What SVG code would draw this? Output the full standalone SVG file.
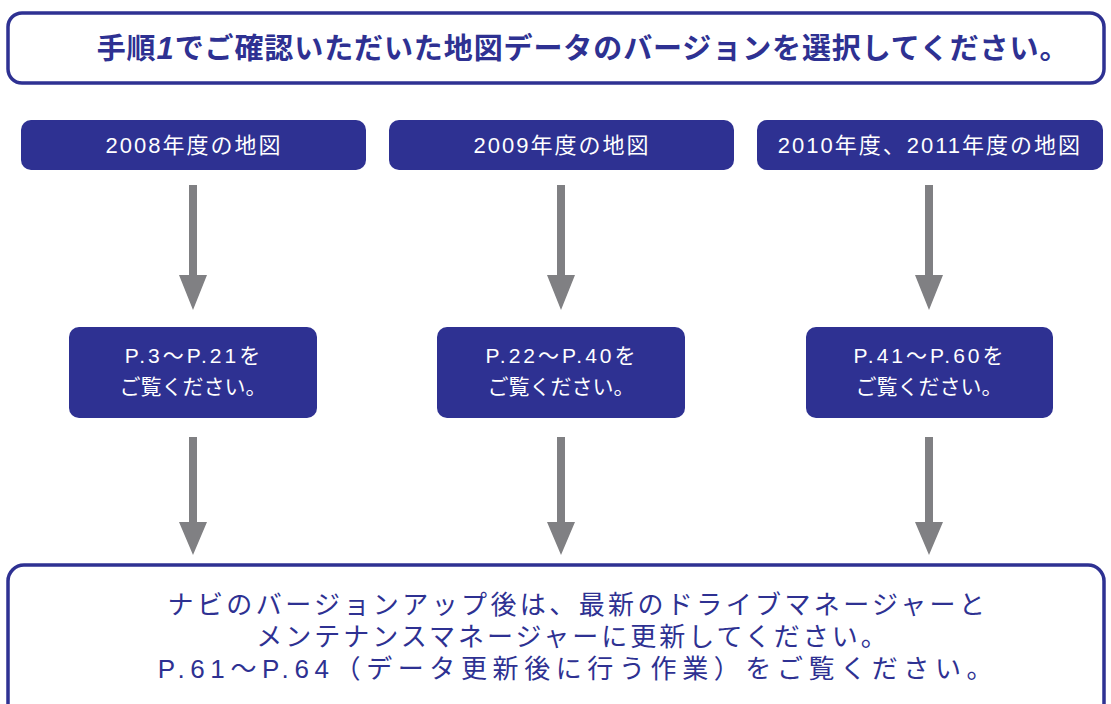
<svg xmlns="http://www.w3.org/2000/svg" width="1111" height="704" viewBox="0 0 1111 704">
<style>
.frame{fill:#fff;stroke:#2e3192;stroke-width:3.5}
.box{fill:#2e3192}
.t{font-family:"Liberation Sans","Noto Sans CJK JP",sans-serif;text-anchor:middle}
.w{fill:#fff}
.h{font-size:22px;letter-spacing:2px}
.m{font-size:21px}
.n{fill:#2e3192}
.b{font-size:26px}
.arr{fill:#808083}
</style>
<defs>
<path id="a1" d="M-4,0 H4 V90 H14 L0,125 L-14,90 H-4 Z"/>
<path id="a2" d="M-4,0 H4 V85 H14 L0,118 L-14,85 H-4 Z"/>
</defs>
<g id="title">
<rect class="frame" x="8" y="13" width="1096" height="70" rx="14"/>
<text class="t n" x="583" y="59" font-size="29" font-weight="bold" letter-spacing="0.9">手順<tspan font-style="italic" font-size="31">1</tspan>でご確認いただいた地図データのバージョンを選択してください。</text>
</g>
<g id="connectors">
<use href="#a1" class="arr" x="193" y="185"/>
<use href="#a1" class="arr" x="561" y="185"/>
<use href="#a1" class="arr" x="929" y="185"/>
<use href="#a2" class="arr" x="193" y="437"/>
<use href="#a2" class="arr" x="561" y="437"/>
<use href="#a2" class="arr" x="929" y="437"/>
</g>
<g id="y2008">
<rect class="box" x="21" y="120" width="345" height="50" rx="10"/>
<text class="t w h" x="194" y="153">2008年度の地図</text>
</g>
<g id="y2009">
<rect class="box" x="389" y="120" width="345" height="50" rx="10"/>
<text class="t w h" x="562" y="153">2009年度の地図</text>
</g>
<g id="y2010">
<rect class="box" x="757" y="120" width="346" height="50" rx="10"/>
<text class="t w h" x="930" y="153">2010年度、2011年度の地図</text>
</g>
<g id="p1">
<rect class="box" x="69" y="327" width="248" height="91" rx="10"/>
<text class="t w m" x="194" y="363" letter-spacing="3">P.3～P.21を</text>
<text class="t w m" x="193" y="394">ご覧ください。</text>
</g>
<g id="p2">
<rect class="box" x="437" y="327" width="248" height="91" rx="10"/>
<text class="t w m" x="562" y="363" letter-spacing="3">P.22～P.40を</text>
<text class="t w m" x="561" y="394">ご覧ください。</text>
</g>
<g id="p3">
<rect class="box" x="806" y="327" width="247" height="91" rx="10"/>
<text class="t w m" x="930" y="363" letter-spacing="3">P.41～P.60を</text>
<text class="t w m" x="929" y="394">ご覧ください。</text>
</g>
<g id="final">
<rect class="frame" x="8" y="565" width="1096" height="160" rx="16"/>
<text class="t n b" x="578" y="614" letter-spacing="3.4">ナビのバージョンアップ後は、最新のドライブマネージャーと</text>
<text class="t n b" x="573" y="646" letter-spacing="3">メンテナンスマネージャーに更新してください。</text>
<text class="t n b" x="578" y="678" letter-spacing="5.6">P.61～P.64（データ更新後に行う作業）をご覧ください。</text>
</g>
</svg>
